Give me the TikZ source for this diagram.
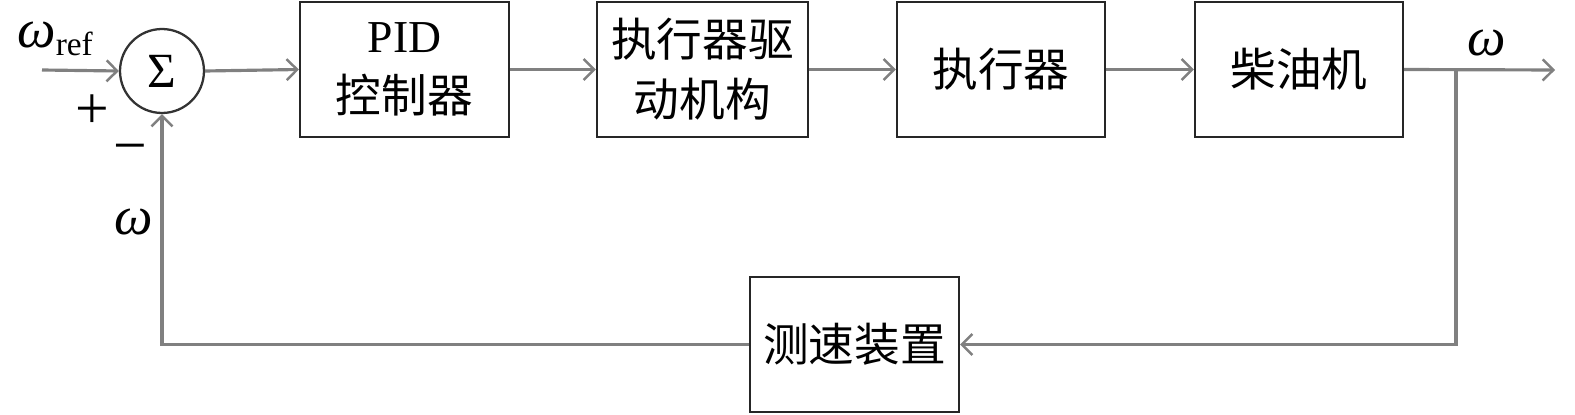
\documentclass[tikz,border=0pt]{standalone}
\usepackage{fontspec}
\setmainfont{Liberation Serif}
\newfontfamily\cjk{Noto Sans CJK SC}
\usetikzlibrary{arrows.meta}
\begin{document}
\begin{tikzpicture}[x=0.02cm,y=-0.02cm,
  blk/.style={draw=black!85,line width=1.3pt,fill=white,minimum width=4.18cm,minimum height=2.7cm,inner sep=0pt,align=center,font=\fontsize{26}{34}\selectfont\cjk},
  sig/.style={draw=black!50,line width=1.8pt},
  arr/.style={sig,-{Straight Barb[length=6pt,width=12pt,line width=1.4pt]}},
  lbl/.style={inner sep=0pt,font=\fontsize{34}{36}\selectfont}]
\useasboundingbox (0,0) rectangle (1575,415);
\node[circle,draw=black!80,line width=1.3pt,minimum size=1.68cm,inner sep=0pt,font=\fontsize{28}{30}\selectfont] (sum) at (162,71) {Σ};
\node[blk] (pid) at (404.5,69.5) {{\fontsize{26}{30}\selectfont\rmfamily PID}\\控制器};
\node[blk,minimum width=4.22cm] (drv) at (702.5,69.5) {执行器驱\\动机构};
\node[blk,minimum width=4.16cm] (act) at (1001,69.5) {执行器};
\node[blk,minimum width=4.16cm] (eng) at (1299,69.5) {柴油机};
\node[blk] (spd) at (854.5,344.5) {测速装置};
\coordinate (in) at (42,70);
\coordinate (br) at (1456,70);
\coordinate (out) at (1555,70);
\draw[arr] (in) -- (sum.west);
\draw[arr] (sum.east) -- (pid.west);
\draw[arr] (pid.east) -- (drv.west);
\draw[arr] (drv.east) -- (act.west);
\draw[arr] (act.east) -- (eng.west);
\draw[arr] (eng.east) -- (out);
\draw[arr] (br) |- (spd.east);
\draw[arr] (spd.west) -| (sum.south);
\node[inner sep=0pt,anchor=base west] (wref) at (17,48) {{\fontsize{31}{34}\selectfont\itshape ω}\raisebox{-4.5pt}{\fontsize{19}{22}\selectfont ref}};
\node[lbl] (plus) at (92,112) {+};
\node[lbl] (minus) at (130,155) {−};
\node[lbl,font=\fontsize{31}{34}\selectfont\itshape] (wfb) at (134,222) {ω};
\node[lbl,font=\fontsize{31}{34}\selectfont\itshape] (wout) at (1487,43) {ω};
\end{tikzpicture}
\end{document}
